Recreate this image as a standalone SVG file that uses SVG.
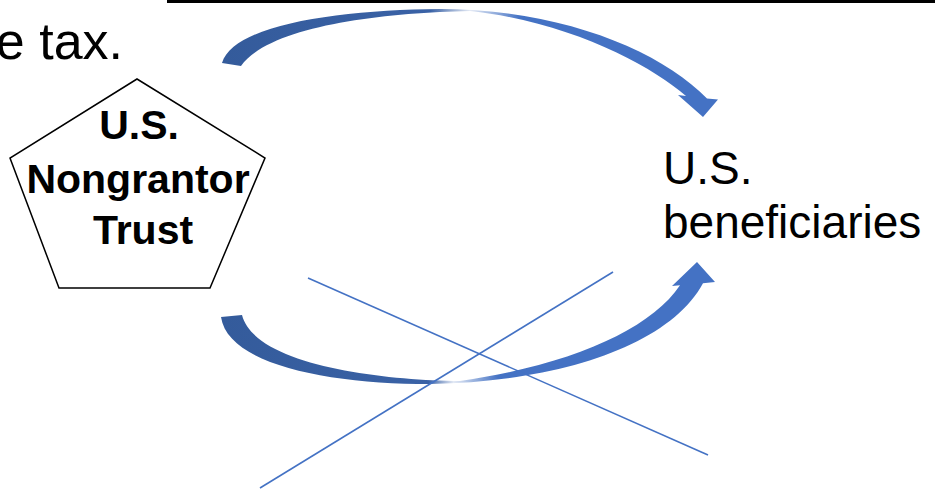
<svg xmlns="http://www.w3.org/2000/svg" width="935" height="491" viewBox="0 0 935 491">
<style>
.t{font-family:"Liberation Sans",Arial,sans-serif;fill:#000}
.b{font-weight:bold;font-size:41px}
.xl{stroke:#4472C4;stroke-width:1.6;fill:none}
</style>
<defs>
<linearGradient id="gTop" gradientUnits="userSpaceOnUse" x1="222" y1="0" x2="718" y2="0">
<stop offset="0" stop-color="#345B9B"/>
<stop offset="0.42" stop-color="#3A62A6"/>
<stop offset="0.5" stop-color="#E4EAF5"/>
<stop offset="0.6" stop-color="#4472C4"/>
<stop offset="1" stop-color="#4472C4"/>
</linearGradient>
<linearGradient id="gBot" gradientUnits="userSpaceOnUse" x1="221" y1="0" x2="716" y2="0">
<stop offset="0" stop-color="#345B9B"/>
<stop offset="0.42" stop-color="#3A62A6"/>
<stop offset="0.47" stop-color="#E4EAF5"/>
<stop offset="0.56" stop-color="#4472C4"/>
<stop offset="1" stop-color="#4472C4"/>
</linearGradient>
</defs>
<rect x="167" y="0" width="768" height="3" fill="#000"/>
<text class="t" x="123" y="59" font-size="52" text-anchor="end">e tax.</text>
<g id="trust">
<polygon points="137,79 265,158 210,288 59,288 10,158" fill="#fff" stroke="#000" stroke-width="1.5"/>
<text class="t b" x="139" y="139" text-anchor="middle">U.S.</text>
<text class="t b" x="138" y="193" text-anchor="middle">Nongrantor</text>
<text class="t b" x="143" y="244" text-anchor="middle">Trust</text>
</g>
<g id="beneficiaries">
<text class="t" x="663" y="184" font-size="46">U.S.</text>
<text class="t" x="663" y="238" font-size="46">beneficiaries</text>
</g>
<g id="connectors">
<path id="arrowTop" fill="url(#gTop)" d="M222,63 C234,24 340,10 440,9 C560,9 660,50 707,98.5 L718,99.5 L703,117 L678,95 L686,96 C650,65 570,22 470,11 C380,13 270,26 241,66 Z"/>
<path id="arrowBottom" fill="url(#gBot)" d="M221,317 C228,365 330,384 430,384 C560,382 670,345 703,283.3 L715,282 L697,262 L672,286 L680,285.3 C650,330 570,365 460,381 C380,380 255,365 242,315 Z"/>
<line class="xl" x1="308" y1="278" x2="708" y2="455"/>
<line class="xl" x1="613" y1="272" x2="260" y2="488"/>
</g>
</svg>
